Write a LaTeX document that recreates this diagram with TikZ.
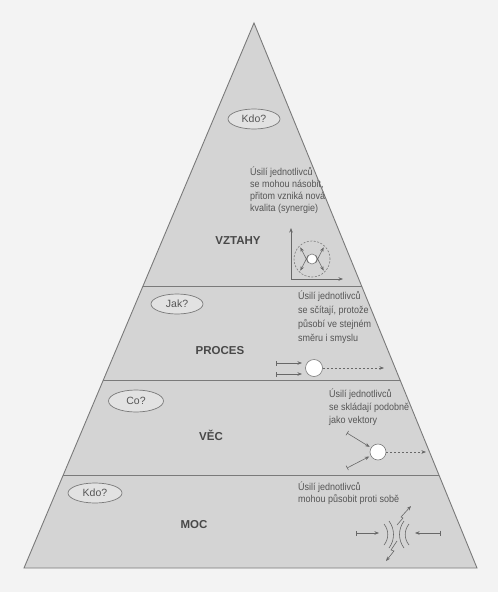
\documentclass[tikz,border=0pt]{standalone}
\usepackage{fontspec}
\setmainfont{Liberation Sans}
\newfontfamily\narrowsf[FakeStretch=0.9]{Liberation Sans}
\usetikzlibrary{arrows.meta,calc,shapes.geometric}
\definecolor{paper}{HTML}{F3F3F3}
\definecolor{pyrfill}{HTML}{D4D4D4}
\definecolor{edge}{HTML}{7A7A7A}
\definecolor{ink}{HTML}{555555}
\definecolor{bubble}{HTML}{E2E2E2}
\begin{document}
\begin{tikzpicture}[x=1pt,y=-1pt,
  layerline/.style={draw=edge,line width=0.9pt},
  question/.style={ellipse,draw=edge,fill=bubble,line width=0.7pt,inner sep=0pt,
    minimum width=52pt,minimum height=20pt,text=ink,font=\fontsize{10.5}{12}\selectfont},
  levelname/.style={text=ink!85!black,inner sep=0pt,font=\bfseries\fontsize{11.5}{13}\selectfont},
  note/.style={text=ink,align=left,anchor=north west,inner sep=0pt},
  vec/.style={draw=edge!85!black,line width=0.6pt,-{Stealth[length=4.5pt,width=3.5pt]}},
  barvec/.style={vec,{Bar[width=5pt]}-{Stealth[length=4.5pt,width=3.5pt]}},
  dashvec/.style={vec,dash pattern=on 2pt off 2pt},
  hub/.style={circle,draw=edge,fill=white,line width=0.6pt,inner sep=0pt}]

% page
\fill[paper] (0,0) rectangle (498,592);

% pyramid outline
\coordinate (apex) at (254,23);
\coordinate (bl) at (24,568);
\coordinate (br) at (477,568);
\filldraw[fill=pyrfill,draw=edge,line width=0.9pt] (apex) -- (bl) -- (br) -- cycle;

% layer boundaries
\coordinate (d1l) at ($(apex)!0.4826!(bl)$); \coordinate (d1r) at ($(apex)!0.4826!(br)$);
\coordinate (d2l) at ($(apex)!0.6550!(bl)$); \coordinate (d2r) at ($(apex)!0.6550!(br)$);
\coordinate (d3l) at ($(apex)!0.8294!(bl)$); \coordinate (d3r) at ($(apex)!0.8294!(br)$);
\draw[layerline] (d1l) -- (d1r);
\draw[layerline] (d2l) -- (d2r);
\draw[layerline] (d3l) -- (d3r);

% questions
\node[question] (q1) at (254,119) {Kdo?};
\node[question] (q2) at (177,304) {Jak?};
\node[question,minimum width=55pt,minimum height=22pt] (q3) at (136,401) {Co?};
\node[question,minimum width=54pt] (q4) at (95,493) {Kdo?};

% layer names
\node[levelname] (l1) at (238,241) {VZTAHY};
\node[levelname] (l2) at (220,351) {PROCES};
\node[levelname] (l3) at (211,435) {VĚC};
\node[levelname] (l4) at (194,525) {MOC};

% explanations
\node[note,font=\narrowsf\fontsize{10}{12}\selectfont] (n1) at (250,167)
  {Úsilí jednotlivců\\se mohou násobit,\\přitom vzniká nová\\kvalita (synergie)};
\node[note,font=\narrowsf\fontsize{10}{14}\selectfont] (n2) at (298,291)
  {Úsilí jednotlivců\\se sčítají, protože\\působí ve stejném\\směru i smyslu};
\node[note,font=\narrowsf\fontsize{10}{13}\selectfont] (n3) at (329,389)
  {Úsilí jednotlivců\\se skládají podobně\\jako vektory};
\node[note,font=\narrowsf\fontsize{10}{12}\selectfont] (n4) at (298,482)
  {Úsilí jednotlivců\\mohou působit proti sobě};

% VZTAHY: multiplied efforts
\coordinate (ax0) at (291,279);
\coordinate (axy) at (291,228);
\coordinate (axx) at (343,279);
\draw[draw=edge!85!black,line width=0.6pt,{Stealth[length=4.5pt,width=3.5pt]}-{Stealth[length=4.5pt,width=3.5pt]}]
  (axy) -- (ax0) -- (axx);
\node[hub,minimum size=10pt] (s1) at (312,259) {};
\draw[draw=edge,line width=0.6pt,dash pattern=on 2pt off 1.5pt] (s1) circle (18pt);
\foreach \a in {45,135,225,315}
  \draw[vec] (s1.\a) -- ($(s1)+(\a:16.5)$);

% PROCES: added efforts
\node[hub,minimum size=17pt] (s2) at (314,368) {};
\coordinate (p1) at (276,363); \coordinate (p1t) at (302,363);
\coordinate (p2) at (276,374); \coordinate (p2t) at (302,374);
\coordinate (p3) at (384,368);
\draw[barvec] (p1) -- (p1t);
\draw[barvec] (p2) -- (p2t);
\draw[dashvec] (s2) -- (p3);

% VĚC: efforts composed like vectors
\node[hub,minimum size=16pt] (s3) at (378,452) {};
\coordinate (v1) at (347,433);
\coordinate (v2) at (347,468);
\coordinate (v3) at (426,452);
\draw[barvec,shorten >=1.5pt] (v1) -- (s3);
\draw[barvec,shorten >=1.5pt] (v2) -- (s3);
\draw[dashvec] (s3) -- (v3);

% MOC: opposing efforts
\coordinate (m1) at (356,533); \coordinate (m1t) at (379,533);
\coordinate (m2) at (441,533); \coordinate (m2t) at (415,533);
\draw[barvec] (m1) -- (m1t);
\draw[barvec] (m2) -- (m2t);
\begin{scope}[draw=edge!85!black,line width=0.6pt]
  \draw (384,524) .. controls (389,530) and (389,539) .. (384,545);
  \draw (389,521) .. controls (395,529) and (395,540) .. (389,548);
  \draw (404,521) .. controls (398,529) and (398,540) .. (404,548);
  \draw (409,524) .. controls (404,530) and (404,539) .. (409,545);
\end{scope}
\coordinate (z1) at (397,525);
\coordinate (z1t) at (411,506);
\coordinate (z2) at (397,541);
\coordinate (z2t) at (386,561);
\draw[vec,line join=miter] (z1) -- (403,518) -- (401,517) -- (z1t);
\draw[vec,line join=miter] (z2) -- (391,550) -- (394,551) -- (z2t);
\end{tikzpicture}
\end{document}
